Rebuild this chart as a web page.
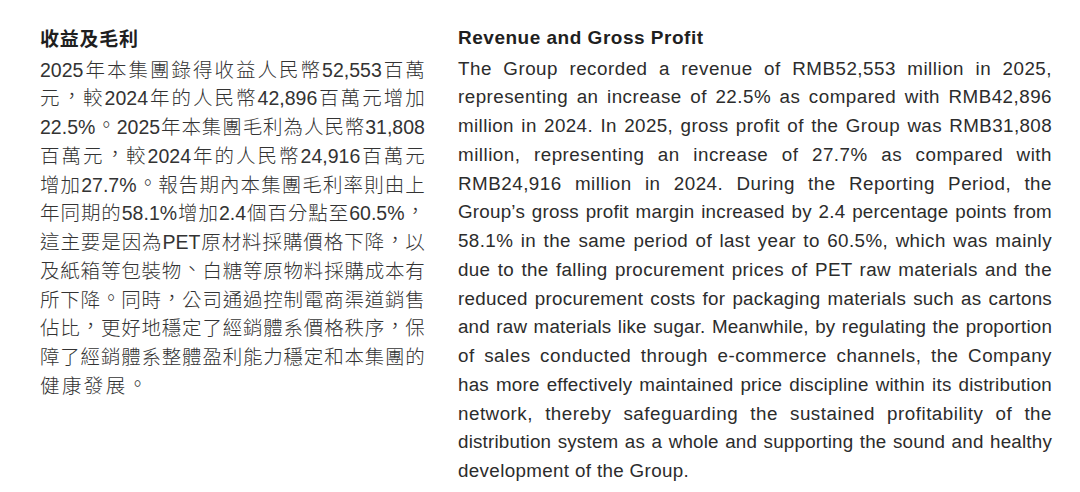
<!DOCTYPE html>
<html>
<head>
<meta charset="utf-8">
<script src="https://cdn.jsdelivr.net/npm/chart.js@4.4.1/dist/chart.umd.min.js"></script>
<style>
  html, body { margin: 0; padding: 0; background: #ffffff; }
  body { width: 1080px; height: 492px; position: relative; overflow: hidden; }
  .ln { position: absolute; white-space: nowrap; height: 29px; line-height: 29px; color: #262626; }
  .zh { font-family: "Liberation Sans", "Noto Sans CJK TC", sans-serif; font-size: 19.5px; color: #333333; }
  .zh .c { font-family: "Noto Sans CJK TC", sans-serif; font-weight: 300; }
  .zh .p { position: relative; top: -0.1em; }
  .en { font-family: "Liberation Sans", Arial, sans-serif; font-size: 18.8px; color: #2c2c2c; }
  .zhT { font-family: "Noto Sans CJK TC", sans-serif; font-size: 19px; font-weight: 700; color: #1f1f1f; }
  .enT { font-family: "Liberation Sans", Arial, sans-serif; font-size: 19px; font-weight: 700; color: #1f1f1f; }
</style>
</head>
<body>
<div id="root"></div>
<script>
// ---- Text content (top-level arrays) ----
const zhTitle = "收益及毛利";
const zhLines = [
  "2025年本集團錄得收益人民幣52,553百萬",
  "元，較2024年的人民幣42,896百萬元增加",
  "22.5%。2025年本集團毛利為人民幣31,808",
  "百萬元，較2024年的人民幣24,916百萬元",
  "增加27.7%。報告期內本集團毛利率則由上",
  "年同期的58.1%增加2.4個百分點至60.5%，",
  "這主要是因為PET原材料採購價格下降，以",
  "及紙箱等包裝物、白糖等原物料採購成本有",
  "所下降。同時，公司通過控制電商渠道銷售",
  "佔比，更好地穩定了經銷體系價格秩序，保",
  "障了經銷體系整體盈利能力穩定和本集團的",
  "健康發展。"
];
const enTitle = "Revenue and Gross Profit";
const enLines = [
  "The Group recorded a revenue of RMB52,553 million in 2025,",
  "representing an increase of 22.5% as compared with RMB42,896",
  "million in 2024. In 2025, gross profit of the Group was RMB31,808",
  "million, representing an increase of 27.7% as compared with",
  "RMB24,916 million in 2024. During the Reporting Period, the",
  "Group’s gross profit margin increased by 2.4 percentage points from",
  "58.1% in the same period of last year to 60.5%, which was mainly",
  "due to the falling procurement prices of PET raw materials and the",
  "reduced procurement costs for packaging materials such as cartons",
  "and raw materials like sugar. Meanwhile, by regulating the proportion",
  "of sales conducted through e-commerce channels, the Company",
  "has more effectively maintained price discipline within its distribution",
  "network, thereby safeguarding the sustained profitability of the",
  "distribution system as a whole and supporting the sound and healthy",
  "development of the Group."
];

// ---- Layout ----
const ZH_L = 40, ZH_R = 425;
const EN_L = 458, EN_R = 1052;
const TITLE_TOP = 23;
const BODY_TOP = 53.5;
const PITCH = 28.75;

const root = document.getElementById('root');
function isCJK(ch) { return /[\u3000-\u303f\u3400-\u9fff\uff00-\uffef]/.test(ch); }
function isPunct(ch) { return /[，。、]/.test(ch); }

function addLine(text, cls, left, top, lang) {
  const d = document.createElement('div');
  d.className = 'ln ' + cls;
  d.style.left = left + 'px';
  d.style.top = top + 'px';
  if (lang) d.lang = lang;
  d.textContent = text;
  root.appendChild(d);
  return d;
}
function fitLetters(d, text, target) {
  const w = d.getBoundingClientRect().width;
  d.style.letterSpacing = ((target - w) / (Array.from(text).length - 1)) + 'px';
}

// Chinese title & lines
const zt = addLine(zhTitle, 'zhT', ZH_L, TITLE_TOP, 'zh-TW');
fitLetters(zt, zhTitle, 98);
zhLines.forEach((t, i) => {
  const d = addLine('', 'zh', ZH_L, BODY_TOP + i * PITCH, 'zh-TW');
  const chars = Array.from(t);
  const spans = [];
  chars.forEach((c, k) => {
    const s = document.createElement('span');
    s.textContent = c;
    if (isCJK(c)) s.className = isPunct(c) ? 'c p' : 'c';
    d.appendChild(s);
    spans.push({ s, c, k });
  });
  if (i === zhLines.length - 1) {
    spans.filter(o => o.k < chars.length - 1).forEach(o => { o.s.style.letterSpacing = '2.4px'; });
    return;
  }
  const natural = d.getBoundingClientRect().width;
  const target = ZH_R - ZH_L;
  const gaps = spans.filter(o => o.k < chars.length - 1 && (isCJK(o.c) || isCJK(chars[o.k + 1])));
  const ls = (target - natural) / Math.max(1, gaps.length);
  gaps.forEach(o => {
    if (isPunct(o.c)) {
      o.s.style.letterSpacing = '0px';
      o.s.style.paddingLeft = (ls * 0.3) + 'px';
      o.s.style.paddingRight = (ls * 0.7) + 'px';
    } else {
      o.s.style.letterSpacing = ls + 'px';
    }
  });
});

// English title & lines
const et = addLine(enTitle, 'enT', EN_L, TITLE_TOP);
fitLetters(et, enTitle, 245);
enLines.forEach((t, i) => {
  const d = addLine(t, 'en', EN_L, BODY_TOP + i * PITCH);
  const n = t.length;
  const spaces = (t.match(/ /g) || []).length;
  if (i === enLines.length - 1) {
    d.style.letterSpacing = '0.35px';
    return;
  }
  const natural = d.getBoundingClientRect().width;
  const target = EN_R - EN_L;
  const diff = target - natural;
  let ls = diff > 0 ? Math.min(0.5, diff * 0.55 / (n - 1)) : diff / (n - 1);
  d.style.letterSpacing = ls + 'px';
  const n2 = d.getBoundingClientRect().width;
  d.style.wordSpacing = ((target - n2) / spaces) + 'px';
});
</script>
</body>
</html>
